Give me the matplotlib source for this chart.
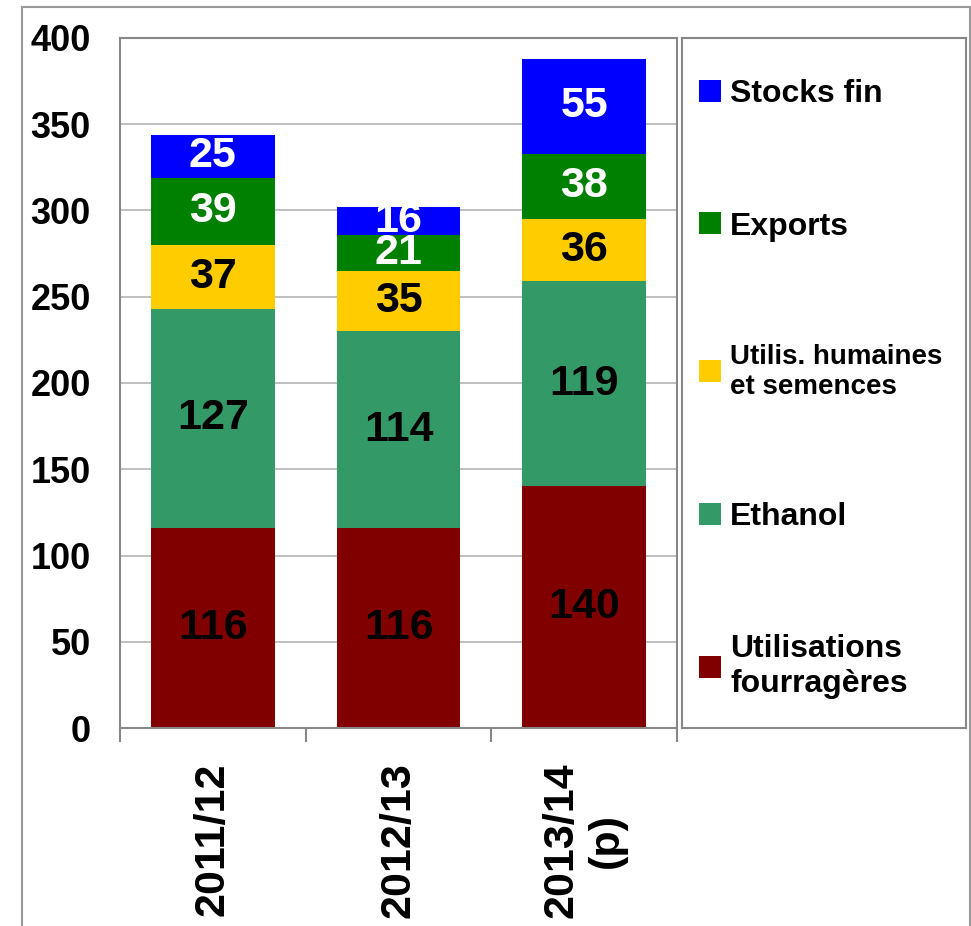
import matplotlib.pyplot as plt
from matplotlib.patches import Patch, Rectangle
import numpy as np

plt.rcParams['font.family'] = ['Liberation Sans', 'DejaVu Sans']
plt.rcParams['font.weight'] = 'bold'

campagnes = ["2011/12", "2012/13", "2013/14\n(p)"]
fourrageres = [116, 116, 140]
ethanol = [127, 114, 119]
humaines = [37, 35, 36]
exports = [39, 21, 38]
stocks = [25, 16, 55]

series = [
    ("Utilisations\nfourragères", fourrageres, "#800000", "black"),
    ("Ethanol", ethanol, "#339966", "black"),
    ("Utilis. humaines\net semences", humaines, "#FFCC00", "black"),
    ("Exports", exports, "#008000", "white"),
    ("Stocks fin", stocks, "#0000FF", "white"),
]

W, H = 971, 926
fig = plt.figure(figsize=(W / 100, H / 100), dpi=100)
ax = fig.add_axes([120 / W, 198 / H, 557 / W, 690 / H])

x = np.arange(len(campagnes))
bottom = np.zeros(len(campagnes))
handles = []
for name, vals, color, tcolor in series:
    vals = np.array(vals)
    bars = ax.bar(x, vals, 0.667, bottom=bottom, color=color, zorder=2)
    for b, v, bt in zip(bars, vals, bottom):
        ax.text(b.get_x() + b.get_width() / 2, bt + v / 2, str(v),
                ha='center', va='center', fontsize=31, color=tcolor,
                fontweight='bold', zorder=3)
    bottom += vals
    handles.append(Patch(facecolor=color, label=name))

ax.set_xlim(-0.5, 2.5)
ax.set_ylim(0, 400)
ax.set_yticks(range(0, 401, 50))
ax.yaxis.grid(True, color='#b4b4b4', lw=1.2, zorder=0)
ax.tick_params(axis='y', length=0, pad=21, labelsize=26)
ax.set_xticks(x)
ax.set_xticklabels(campagnes, rotation=90, fontsize=31, ha='center',
                   va='top', multialignment='center')
ax.tick_params(axis='x', which='major', length=0, pad=25)
ax.set_xticks([-0.5, 0.5, 1.5, 2.5], minor=True)
ax.tick_params(axis='x', which='minor', length=10, width=1.5, color='#888888')
for s in ax.spines.values():
    s.set_color('#888888')
    s.set_linewidth(1.5)

# legend panel
lax = fig.add_axes([682 / W, 198 / H, 284 / W, 690 / H])
lax.set_xticks([])
lax.set_yticks([])
for s in lax.spines.values():
    s.set_color('#888888')
    s.set_linewidth(1.5)
leg = lax.legend(handles=handles[::-1], loc='upper left',
                 bbox_to_anchor=(0.06, 0.94), frameon=False, fontsize=23,
                 handlelength=0.68, handleheight=0.68, handletextpad=0.3,
                 labelspacing=3.2, borderpad=0, borderaxespad=0)
for t in leg.get_texts():
    t.set_fontweight('bold')
    if t.get_text().startswith("Utilis. "):
        t.set_fontsize(20)

fig.patches.append(Rectangle((22 / W, -0.1), 948 / W, (919 / H) + 0.1,
                             transform=fig.transFigure, fill=False,
                             ec='#999999', lw=1.5))

fig.savefig("out.png", dpi=100)
